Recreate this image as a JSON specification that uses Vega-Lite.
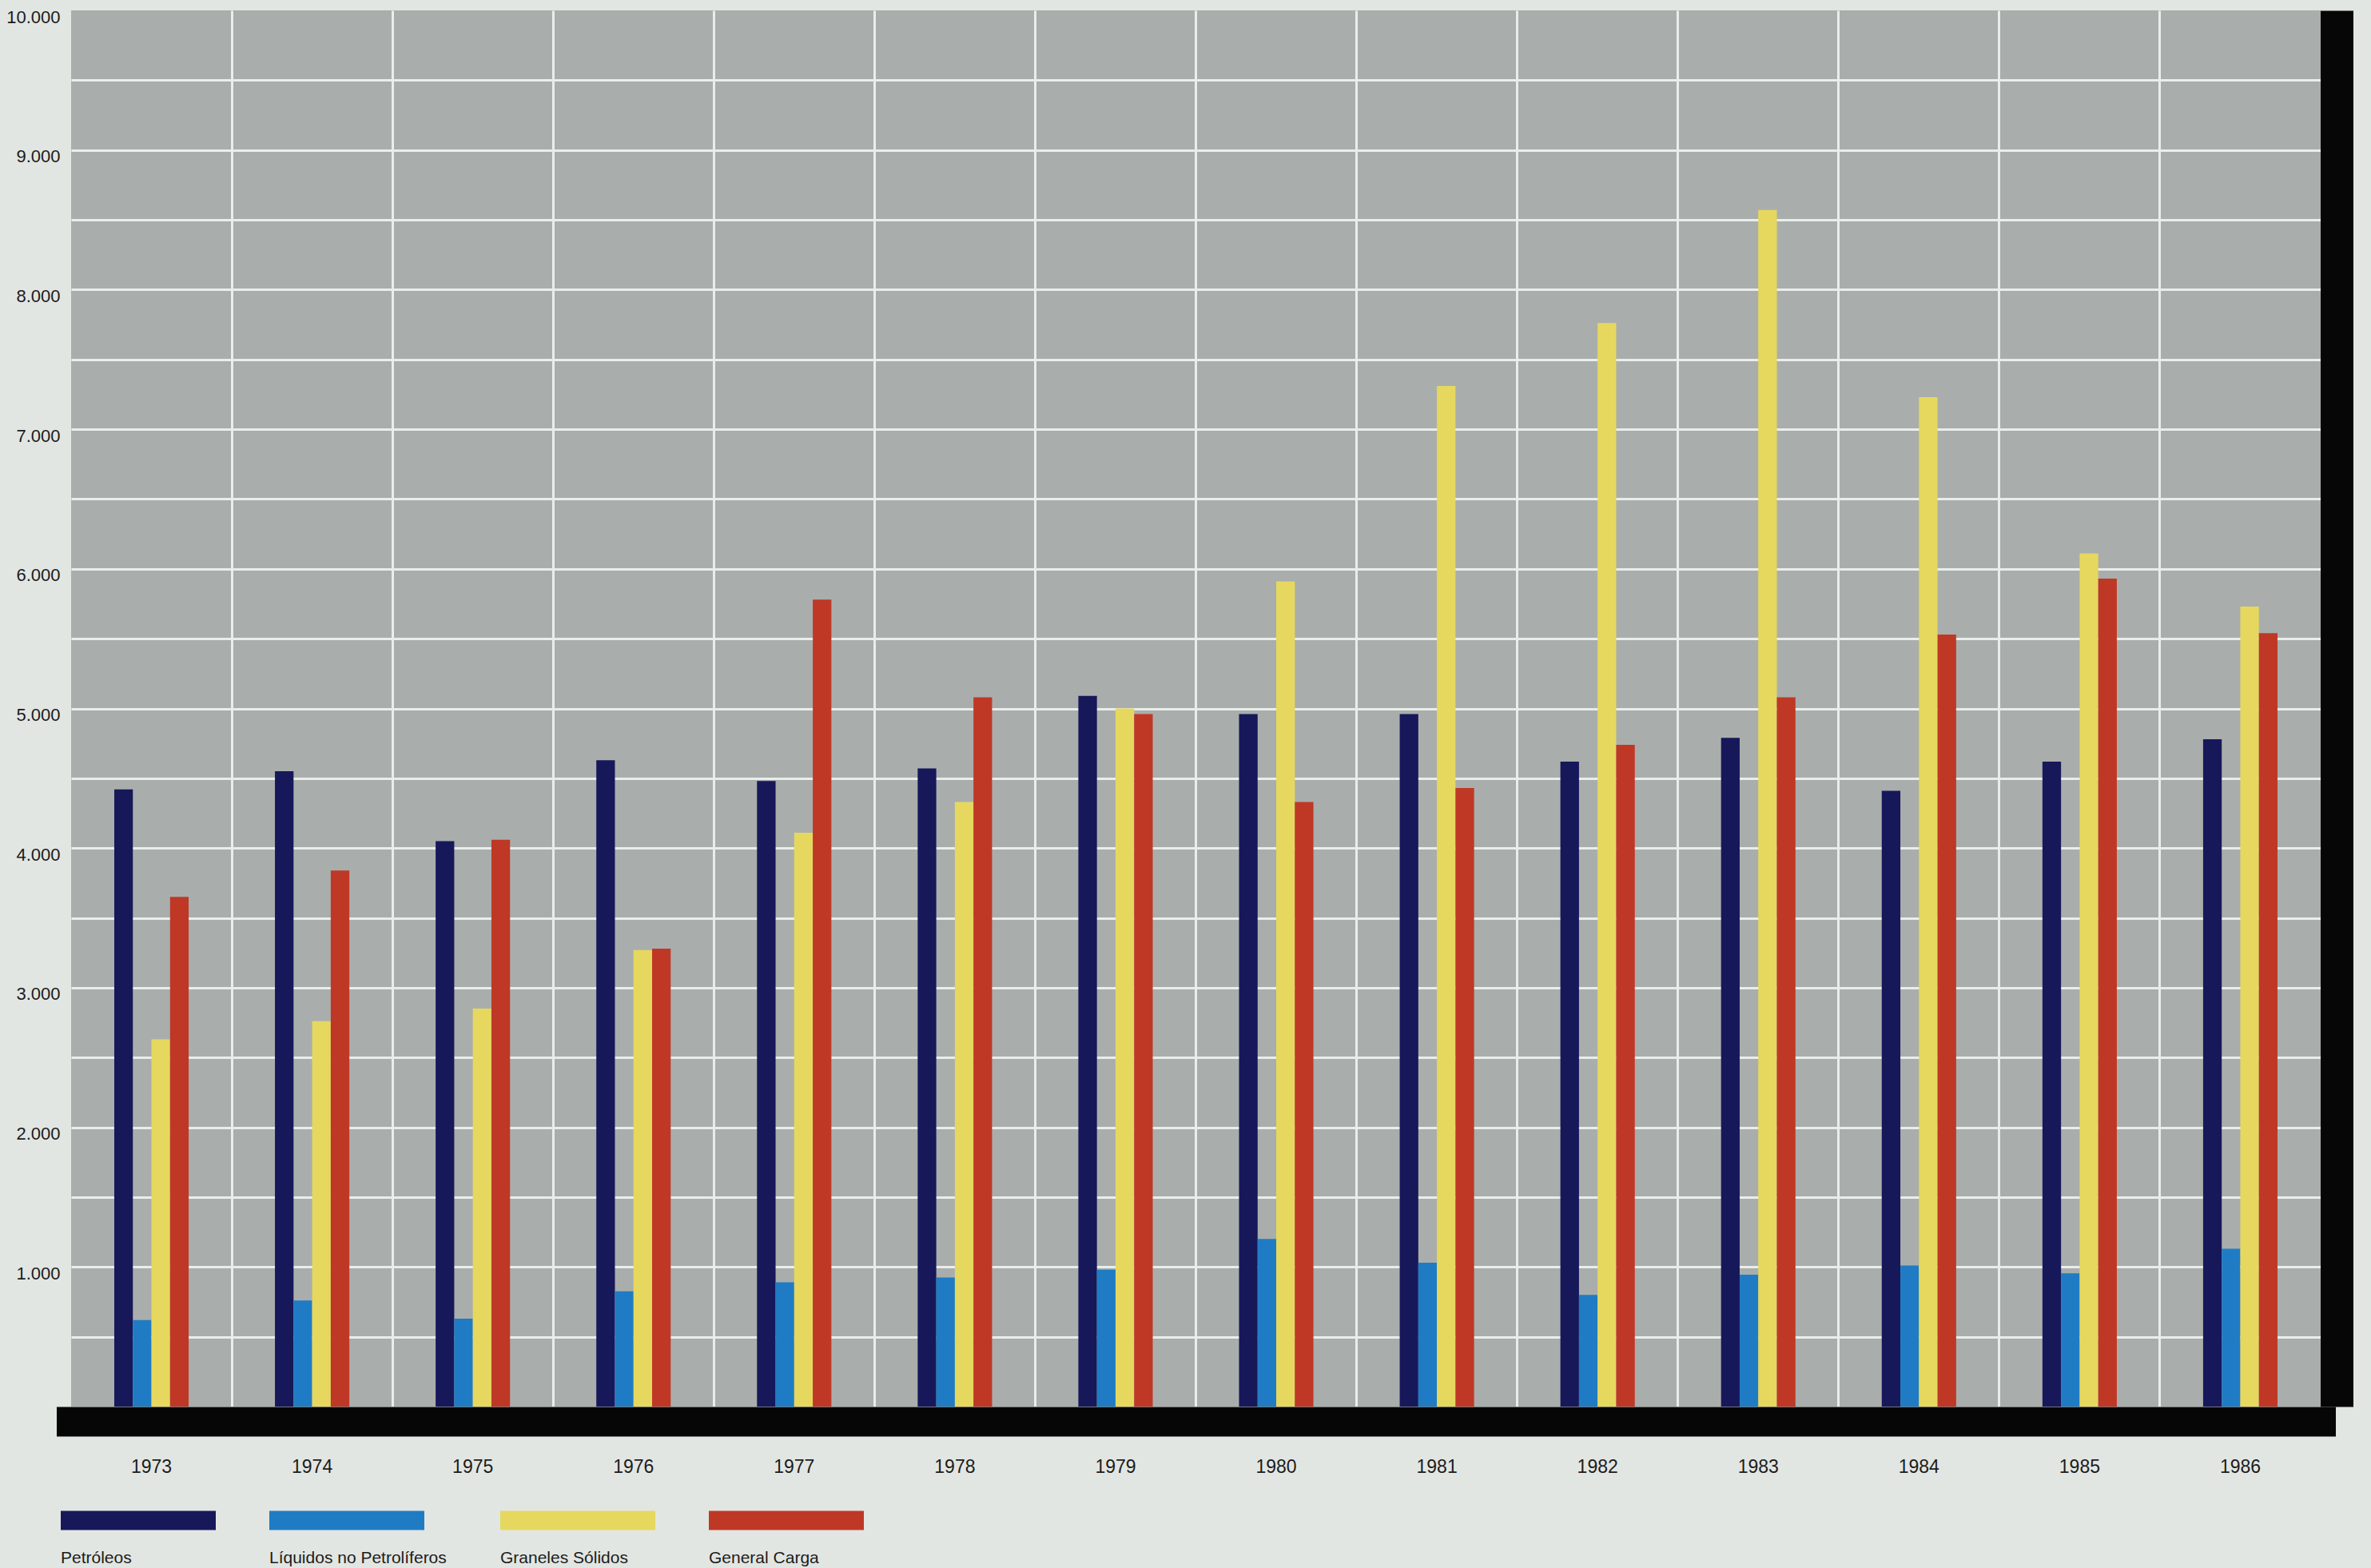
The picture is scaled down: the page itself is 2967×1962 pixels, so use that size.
{
  "$schema": "https://vega.github.io/schema/vega-lite/v6.json",
  "width": 2815,
  "height": 1747,
  "autosize": {"type": "none"},
  "padding": {"left": 89, "top": 13, "right": 63, "bottom": 202},
  "background": "#e2e6e2",
  "config": {
    "view": {"fill": "#a9aeac", "stroke": null},
    "font": "Liberation Sans"
  },
  "data": {
    "values": [
      {"Year": "1973", "Type": "Petróleos", "Value": 4420},
      {"Year": "1973", "Type": "Líquidos no Petrolíferos", "Value": 620},
      {"Year": "1973", "Type": "Graneles Sólidos", "Value": 2630},
      {"Year": "1973", "Type": "General Carga", "Value": 3650},
      {"Year": "1974", "Type": "Petróleos", "Value": 4550},
      {"Year": "1974", "Type": "Líquidos no Petrolíferos", "Value": 760},
      {"Year": "1974", "Type": "Graneles Sólidos", "Value": 2760},
      {"Year": "1974", "Type": "General Carga", "Value": 3840},
      {"Year": "1975", "Type": "Petróleos", "Value": 4050},
      {"Year": "1975", "Type": "Líquidos no Petrolíferos", "Value": 630},
      {"Year": "1975", "Type": "Graneles Sólidos", "Value": 2850},
      {"Year": "1975", "Type": "General Carga", "Value": 4060},
      {"Year": "1976", "Type": "Petróleos", "Value": 4630},
      {"Year": "1976", "Type": "Líquidos no Petrolíferos", "Value": 825},
      {"Year": "1976", "Type": "Graneles Sólidos", "Value": 3270},
      {"Year": "1976", "Type": "General Carga", "Value": 3280},
      {"Year": "1977", "Type": "Petróleos", "Value": 4480},
      {"Year": "1977", "Type": "Líquidos no Petrolíferos", "Value": 890},
      {"Year": "1977", "Type": "Graneles Sólidos", "Value": 4110},
      {"Year": "1977", "Type": "General Carga", "Value": 5780},
      {"Year": "1978", "Type": "Petróleos", "Value": 4570},
      {"Year": "1978", "Type": "Líquidos no Petrolíferos", "Value": 925},
      {"Year": "1978", "Type": "Graneles Sólidos", "Value": 4330},
      {"Year": "1978", "Type": "General Carga", "Value": 5080},
      {"Year": "1979", "Type": "Petróleos", "Value": 5090},
      {"Year": "1979", "Type": "Líquidos no Petrolíferos", "Value": 980},
      {"Year": "1979", "Type": "Graneles Sólidos", "Value": 5000},
      {"Year": "1979", "Type": "General Carga", "Value": 4960},
      {"Year": "1980", "Type": "Petróleos", "Value": 4960},
      {"Year": "1980", "Type": "Líquidos no Petrolíferos", "Value": 1200},
      {"Year": "1980", "Type": "Graneles Sólidos", "Value": 5910},
      {"Year": "1980", "Type": "General Carga", "Value": 4330},
      {"Year": "1981", "Type": "Petróleos", "Value": 4960},
      {"Year": "1981", "Type": "Líquidos no Petrolíferos", "Value": 1030},
      {"Year": "1981", "Type": "Graneles Sólidos", "Value": 7310},
      {"Year": "1981", "Type": "General Carga", "Value": 4430},
      {"Year": "1982", "Type": "Petróleos", "Value": 4620},
      {"Year": "1982", "Type": "Líquidos no Petrolíferos", "Value": 800},
      {"Year": "1982", "Type": "Graneles Sólidos", "Value": 7760},
      {"Year": "1982", "Type": "General Carga", "Value": 4740},
      {"Year": "1983", "Type": "Petróleos", "Value": 4790},
      {"Year": "1983", "Type": "Líquidos no Petrolíferos", "Value": 945},
      {"Year": "1983", "Type": "Graneles Sólidos", "Value": 8570},
      {"Year": "1983", "Type": "General Carga", "Value": 5080},
      {"Year": "1984", "Type": "Petróleos", "Value": 4410},
      {"Year": "1984", "Type": "Líquidos no Petrolíferos", "Value": 1010},
      {"Year": "1984", "Type": "Graneles Sólidos", "Value": 7230},
      {"Year": "1984", "Type": "General Carga", "Value": 5530},
      {"Year": "1985", "Type": "Petróleos", "Value": 4620},
      {"Year": "1985", "Type": "Líquidos no Petrolíferos", "Value": 955},
      {"Year": "1985", "Type": "Graneles Sólidos", "Value": 6110},
      {"Year": "1985", "Type": "General Carga", "Value": 5930},
      {"Year": "1986", "Type": "Petróleos", "Value": 4780},
      {"Year": "1986", "Type": "Líquidos no Petrolíferos", "Value": 1130},
      {"Year": "1986", "Type": "Graneles Sólidos", "Value": 5730},
      {"Year": "1986", "Type": "General Carga", "Value": 5540}
    ]
  },
  "layer": [
    {
      "mark": {"type": "bar"},
      "encoding": {
        "x": {
          "field": "Year", "type": "nominal",
          "scale": {"type": "band", "paddingInner": 0.537, "paddingOuter": 0.2685},
          "axis": {
            "orient": "bottom", "title": null, "labelAngle": 0,
            "labelFont": "Liberation Sans", "labelFontSize": 23, "labelColor": "#1c1c1c",
            "labelBaseline": "top", "labelPadding": 46,
            "ticks": false, "tickSize": 0, "grid": false,
            "domain": true, "domainColor": "#060606", "domainWidth": 37, "domainCap": "square",
            "offset": 18.5
          }
        },
        "xOffset": {
          "field": "Type", "type": "nominal",
          "sort": ["Petróleos", "Líquidos no Petrolíferos", "Graneles Sólidos", "General Carga"],
          "scale": {"paddingInner": 0, "paddingOuter": 0}
        },
        "y": {
          "field": "Value", "type": "quantitative",
          "scale": {"domain": [0, 10000], "nice": false},
          "axis": {
            "title": null,
            "values": [0, 500, 1000, 1500, 2000, 2500, 3000, 3500, 4000, 4500, 5000, 5500, 6000, 6500, 7000, 7500, 8000, 8500, 9000, 9500, 10000],
            "labelExpr": "datum.value > 0 && datum.value % 1000 == 0 ? replace(format(datum.value, ','), ',', '.') : ''",
            "labelFont": "Liberation Sans", "labelFontSize": 22, "labelColor": "#1c1c1c",
            "labelBaseline": "top", "labelOffset": -2, "labelPadding": 14, "labelOverlap": false, "labelFlush": false,
            "ticks": false, "tickSize": 0, "domain": false,
            "grid": true, "gridColor": "#e9edeb", "gridWidth": 3,
            "gridOpacity": {"condition": {"test": "datum.value == 0 || datum.value == 10000", "value": 0}, "value": 1}
          }
        },
        "color": {
          "field": "Type", "type": "nominal",
          "scale": {
            "domain": ["Petróleos", "Líquidos no Petrolíferos", "Graneles Sólidos", "General Carga"],
            "range": ["#17185a", "#1f7cc4", "#e6d85e", "#bf3826"]
          },
          "legend": {
            "orient": "none", "legendX": -13, "legendY": 1840,
            "direction": "horizontal", "title": null, "padding": 0,
            "symbolType": "M-1,-0.614H1V-0.366H-1Z", "symbolSize": 37636,
            "symbolStrokeWidth": 0, "symbolOpacity": 1,
            "labelOffset": -194, "labelFont": "Liberation Sans", "labelFontSize": 21,
            "labelColor": "#1c1c1c", "labelBaseline": "middle", "labelLimit": 500,
            "columnPadding": 67
          }
        }
      }
    },
    {
      "mark": {"type": "bar", "opacity": 0},
      "encoding": {
        "x": {
          "field": "Year", "type": "nominal",
          "scale": {"type": "band", "paddingInner": 0, "paddingOuter": 0},
          "axis": {
            "orient": "bottom", "title": null, "labels": false, "ticks": false, "tickSize": 0,
            "domain": false, "grid": true, "bandPosition": 0,
            "gridColor": "#e9edeb", "gridWidth": 3,
            "gridOpacity": {"condition": {"test": "datum.value == '1973'", "value": 0}, "value": 1}
          }
        },
        "y": {
          "field": "Value", "type": "quantitative",
          "axis": {
            "orient": "right", "title": null, "labels": false, "ticks": false, "tickSize": 0,
            "grid": false, "domain": true, "domainColor": "#060606", "domainWidth": 41, "offset": 20
          }
        }
      }
    }
  ],
  "resolve": {"scale": {"x": "independent"}, "axis": {"x": "independent", "y": "independent"}}
}
